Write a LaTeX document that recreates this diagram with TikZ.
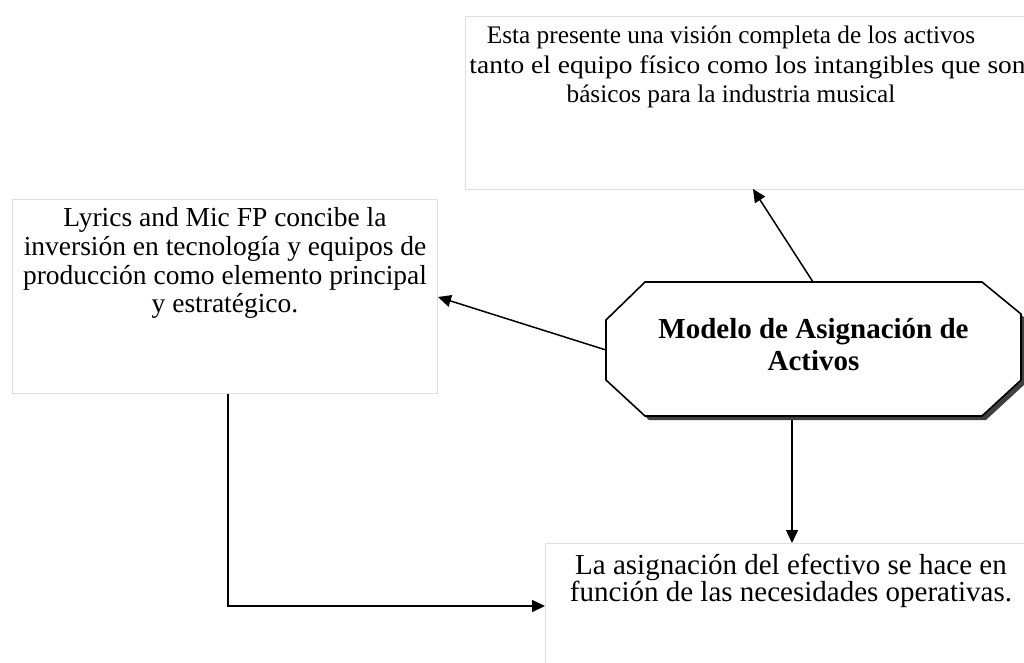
\documentclass[tikz,border=0pt]{standalone}
\usepackage{fontspec}
\setmainfont{Liberation Serif}
\usetikzlibrary{arrows.meta,calc}
\begin{document}
\begin{tikzpicture}[x=1pt,y=-1pt,
  box/.style={draw=black!12, line width=0.8pt, inner sep=0pt},
  txt/.style={align=center, inner sep=0pt},
  arr/.style={line width=1.5pt, -{Triangle[length=13pt,width=12pt]}},
  octline/.style={draw, line width=1.6pt, fill=white, line join=miter},
  octshadow/.style={fill=black!75},
  octtxt/.style={align=center, inner sep=0pt, font=\fontsize{29}{32}\selectfont\bfseries}]
\useasboundingbox (0,0) rectangle (1024,662);
\clip (0,0) rectangle (1024,662);
% boxes
\node[box, minimum width=575pt, minimum height=173pt, anchor=north west] (topbox) at (465,16) {};
\node[box, minimum width=425pt, minimum height=194pt, anchor=north west] (leftbox) at (12,199) {};
\node[box, minimum width=520pt, minimum height=140pt, anchor=north west] (botbox) at (545,543) {};
% texts
\node[txt, anchor=north, font=\fontsize{25.3}{29.5}\selectfont] (toptxt) at (731,26)
  {Esta presente una visión completa de los activos\\
   \hspace*{33pt}\scalebox{1.084}[1]{tanto el equipo físico como los intangibles que son}\\
   básicos para la industria musical};
\node[txt, anchor=north, font=\fontsize{27.5}{28.7}\selectfont] (lefttxt) at (225,207.5)
  {Lyrics and Mic FP concibe la\\inversión en tecnología y equipos de\\producción como elemento principal\\y estratégico.};
\node[txt, anchor=north, font=\fontsize{29}{27}\selectfont] (bottxt) at (791,553.5)
  {La asignación del efectivo se hace en\\función de las necesidades operativas.};
% central octagon
\coordinate (o1) at (645,282);
\coordinate (o2) at (982,282);
\coordinate (o3) at (1021,314);
\coordinate (o4) at (1021,380);
\coordinate (o5) at (982,416);
\coordinate (o6) at (645,416);
\coordinate (o7) at (606,380);
\coordinate (o8) at (606,320);
\fill[octshadow] ($(o1)+(4,4)$) -- ($(o2)+(4,4)$) -- ($(o3)+(4,4)$) -- ($(o4)+(4,4)$) -- ($(o5)+(4,4)$) -- ($(o6)+(4,4)$) -- ($(o7)+(4,4)$) -- ($(o8)+(4,4)$) -- cycle;
\path[octline] (o1) -- (o2) -- (o3) -- (o4) -- (o5) -- (o6) -- (o7) -- (o8) -- cycle;
\node[octtxt, anchor=north] (center) at (813.5,318) {Modelo de Asignación de\\Activos};
\coordinate (octN) at (813,282);
\coordinate (octW) at (606,350);
\coordinate (octS) at (792,416);
% connectors
\coordinate (topend) at (753,189);
\coordinate (leftend) at (438,297);
\coordinate (botend) at (792,543);
\coordinate (corner) at (228,606);
\coordinate (botleft) at (545,606);
\draw[arr] (octN) -- (topend);
\draw[arr] (octW) -- (leftend);
\draw[arr] ($(octS)+(0,4)$) -- (botend);
\draw[arr] (leftbox.south -| corner) -- (corner) -- (botleft);
\end{tikzpicture}
\end{document}
